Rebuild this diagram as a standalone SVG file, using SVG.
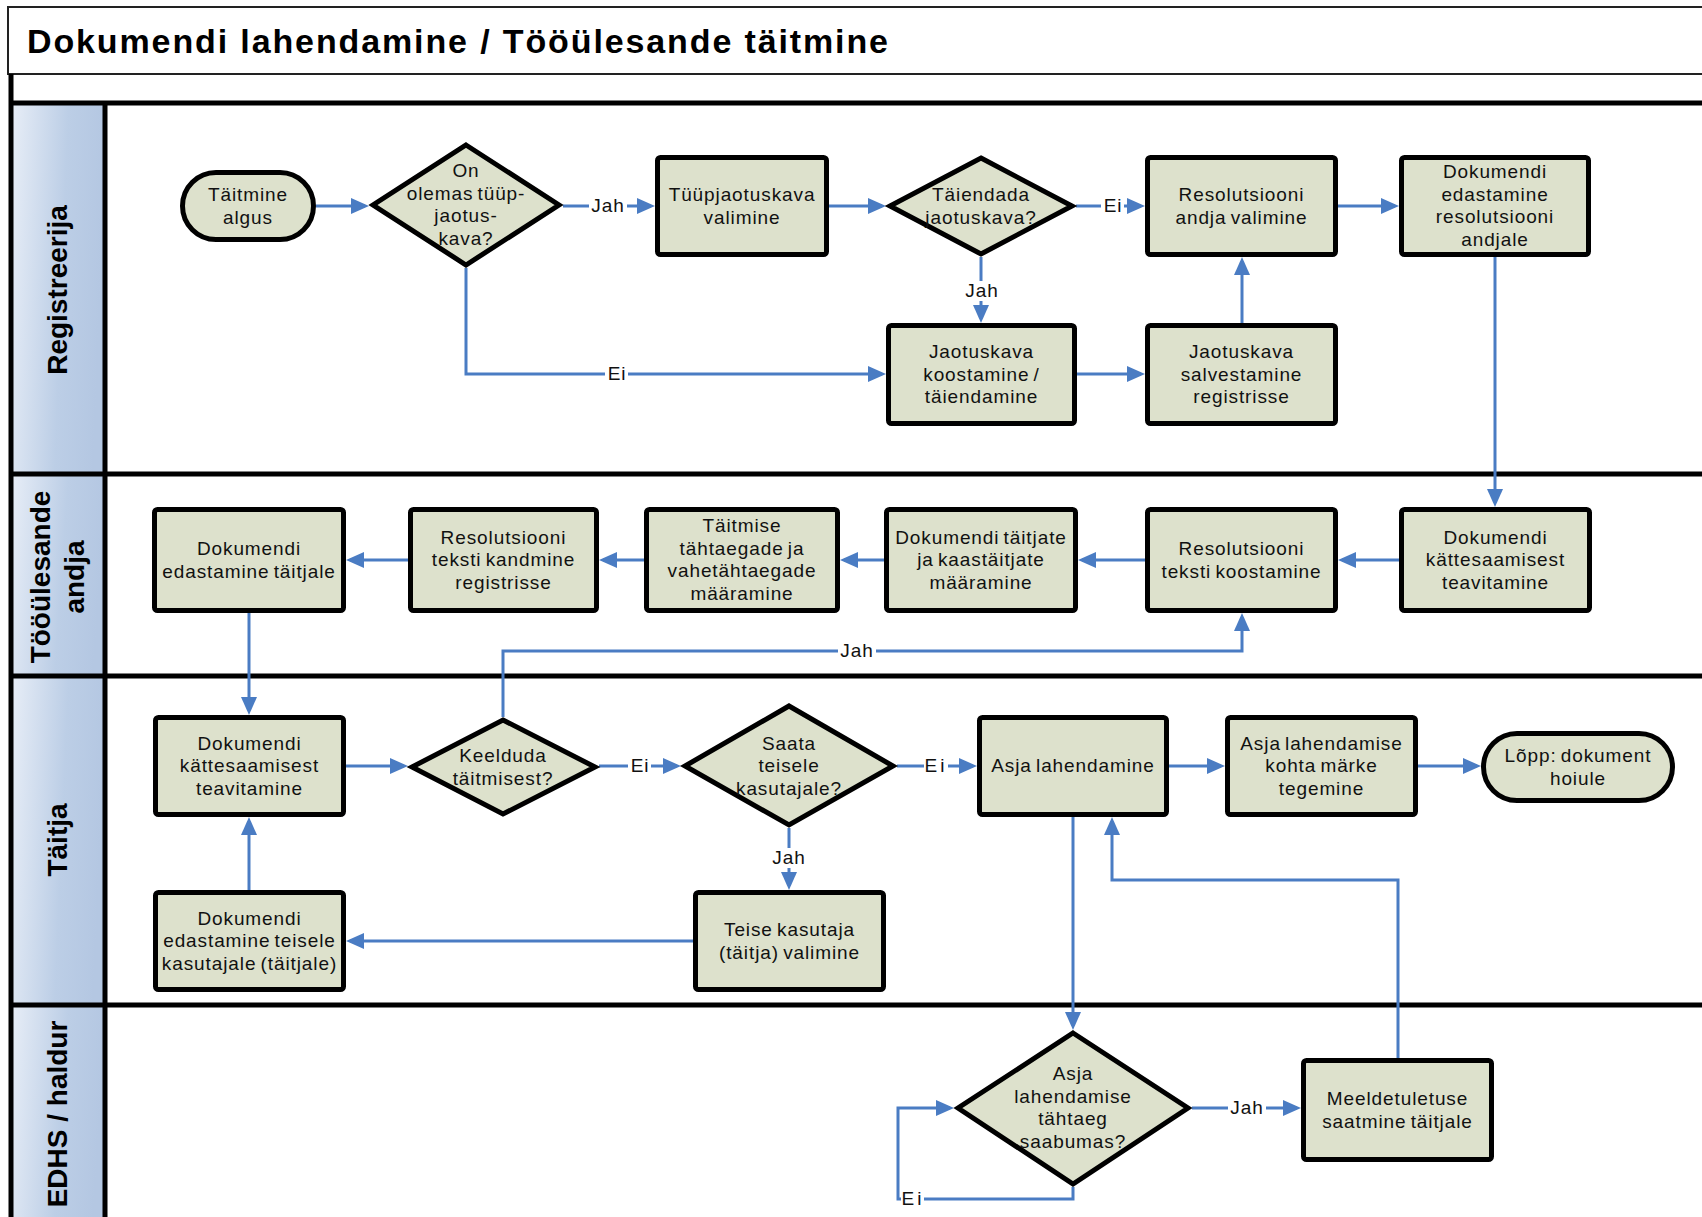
<svg xmlns="http://www.w3.org/2000/svg" width="1702" height="1217" viewBox="0 0 1702 1217">
<defs>
<linearGradient id="hdr" x1="0" y1="0" x2="1" y2="0.15">
<stop offset="0" stop-color="#e8eef7"/>
<stop offset="0.6" stop-color="#bccee6"/>
<stop offset="1" stop-color="#b4c7e2"/>
</linearGradient>
<marker id="ah" viewBox="0 0 18 16" refX="14" refY="8" markerWidth="18" markerHeight="16" markerUnits="userSpaceOnUse" orient="auto">
<path d="M0,0 L18,8 L0,16 z" fill="#4a7cc3"/>
</marker>
<style>
.node{fill:#dde1cc;stroke:#000;stroke-width:5;stroke-linejoin:miter}
.t{font-family:"Liberation Sans",Arial,sans-serif;font-size:19px;fill:#111;text-anchor:middle;letter-spacing:0.9px;word-spacing:-2px}
.conn{fill:none;stroke:#4a7cc3;stroke-width:3}
.bg{fill:#fff}
.ln{stroke:#000;stroke-width:5}
.hf{fill:url(#hdr)}
.ht{font-family:"Liberation Sans",Arial,sans-serif;font-size:28px;font-weight:bold;fill:#000;text-anchor:middle}
</style>
</defs>
<rect x="0" y="0" width="1702" height="1217" fill="#fff"/>

<g id="title">
<rect x="8" y="7" width="1710" height="67" fill="#fff" stroke="#222" stroke-width="2"/>
<text x="27" y="53" font-family="Liberation Sans,Arial,sans-serif" font-size="34" font-weight="bold" fill="#000" textLength="861" lengthAdjust="spacing">Dokumendi lahendamine / Tööülesande täitmine</text>
</g>

<g id="lanes">
<rect class="hf" x="11" y="103" width="94" height="371"/>
<rect class="hf" x="11" y="474" width="94" height="202"/>
<rect class="hf" x="11" y="676" width="94" height="329"/>
<rect class="hf" x="11" y="1005" width="94" height="212"/>
<line class="ln" x1="11" y1="74" x2="11" y2="1217"/>
<line class="ln" x1="105" y1="103" x2="105" y2="1217"/>
<line class="ln" x1="9" y1="103" x2="1702" y2="103"/>
<line class="ln" x1="9" y1="474" x2="1702" y2="474"/>
<line class="ln" x1="9" y1="676" x2="1702" y2="676"/>
<line class="ln" x1="9" y1="1005" x2="1702" y2="1005"/>
<text class="ht" transform="translate(67,290) rotate(-90)">Registreerija</text>
<text class="ht" transform="translate(50,577) rotate(-90)">Tööülesande</text>
<text class="ht" transform="translate(84,577) rotate(-90)">andja</text>
<text class="ht" transform="translate(67,840) rotate(-90)">Täitja</text>
<text class="ht" transform="translate(67,1114) rotate(-90)">EDHS / haldur</text>
</g>

<g id="connectors">
<path class="conn" marker-end="url(#ah)" d="M316,206 H365"/>
<path class="conn" marker-end="url(#ah)" d="M563,206 H651"/>
<path class="conn" marker-end="url(#ah)" d="M829,206 H882"/>
<path class="conn" marker-end="url(#ah)" d="M1076,206 H1141"/>
<path class="conn" marker-end="url(#ah)" d="M1338,206 H1395"/>
<path class="conn" marker-end="url(#ah)" d="M466,268 V374 H882"/>
<path class="conn" marker-end="url(#ah)" d="M981,257 V319"/>
<path class="conn" marker-end="url(#ah)" d="M1077,374 H1141"/>
<path class="conn" marker-end="url(#ah)" d="M1242,323 V261"/>
<path class="conn" marker-end="url(#ah)" d="M1495,257 V503"/>
<path class="conn" marker-end="url(#ah)" d="M1399,560 H1342"/>
<path class="conn" marker-end="url(#ah)" d="M1145,560 H1082"/>
<path class="conn" marker-end="url(#ah)" d="M884,560 H844"/>
<path class="conn" marker-end="url(#ah)" d="M644,560 H603"/>
<path class="conn" marker-end="url(#ah)" d="M408,560 H350"/>
<path class="conn" marker-end="url(#ah)" d="M249,613 V711"/>
<path class="conn" marker-end="url(#ah)" d="M346,766 H404"/>
<path class="conn" marker-end="url(#ah)" d="M503,717 V651 H1242 V617"/>
<path class="conn" marker-end="url(#ah)" d="M599,766 H677"/>
<path class="conn" marker-end="url(#ah)" d="M897,766 H973"/>
<path class="conn" marker-end="url(#ah)" d="M789,828 V886"/>
<path class="conn" marker-end="url(#ah)" d="M693,941 H350"/>
<path class="conn" marker-end="url(#ah)" d="M249,890 V821"/>
<path class="conn" marker-end="url(#ah)" d="M1169,766 H1221"/>
<path class="conn" marker-end="url(#ah)" d="M1418,766 H1477"/>
<path class="conn" marker-end="url(#ah)" d="M1073,817 V1026"/>
<path class="conn" marker-end="url(#ah)" d="M1398,1058 V880 H1112 V821"/>
<path class="conn" marker-end="url(#ah)" d="M1192,1108 H1297"/>
<path class="conn" marker-end="url(#ah)" d="M1073,1187 V1199 H898 V1108 H950"/>
<g id="labels">
<rect class="bg" x="589" y="197" width="38" height="18"/><text class="t" x="608" y="212">Jah</text>
<rect class="bg" x="605" y="365" width="23" height="18"/><text class="t" x="617" y="380">Ei</text>
<rect class="bg" x="963" y="281" width="38" height="20"/><text class="t" x="982" y="297">Jah</text>
<rect class="bg" x="1101" y="197" width="23" height="18"/><text class="t" x="1113" y="212">Ei</text>
<rect class="bg" x="838" y="642" width="38" height="18"/><text class="t" x="857" y="657">Jah</text>
<rect class="bg" x="628" y="757" width="23" height="18"/><text class="t" x="640" y="772">Ei</text>
<rect class="bg" x="924" y="757" width="24" height="18"/><text class="t" x="936" y="772" style="letter-spacing:3px">Ei</text>
<rect class="bg" x="770" y="848" width="38" height="20"/><text class="t" x="789" y="864">Jah</text>
<rect class="bg" x="1228" y="1099" width="38" height="18"/><text class="t" x="1247" y="1114">Jah</text>
<rect class="bg" x="901" y="1190" width="23" height="18"/><text class="t" x="913" y="1205" style="letter-spacing:3px">Ei</text>
</g>
</g>

<g id="n-start"><rect class="node" x="182.5" y="172.5" width="131" height="67" rx="33.5"/><text class="t"><tspan x="248" y="201">Täitmine</tspan><tspan x="248" y="223.5">algus</tspan></text></g>
<g id="n-d1"><polygon class="node" points="466,145 559,205 466,265 373,205"/><text class="t"><tspan x="466" y="177">On</tspan><tspan x="466" y="200">olemas tüüp-</tspan><tspan x="466" y="222">jaotus-</tspan><tspan x="466" y="245">kava?</tspan></text></g>
<g id="n-b1"><rect class="node" x="657.5" y="157.5" width="169" height="97" rx="3"/><text class="t"><tspan x="742" y="201">Tüüpjaotuskava</tspan><tspan x="742" y="223.5">valimine</tspan></text></g>
<g id="n-d2"><polygon class="node" points="981,158 1072,206 981,254 890,206"/><text class="t"><tspan x="981" y="201">Täiendada</tspan><tspan x="981" y="223.5">jaotuskava?</tspan></text></g>
<g id="n-b2"><rect class="node" x="1147.5" y="157.5" width="188" height="97" rx="3"/><text class="t"><tspan x="1241.5" y="201">Resolutsiooni</tspan><tspan x="1241.5" y="223.5">andja valimine</tspan></text></g>
<g id="n-b3"><rect class="node" x="1401.5" y="157.5" width="187" height="97" rx="3"/><text class="t"><tspan x="1495" y="178">Dokumendi</tspan><tspan x="1495" y="201">edastamine</tspan><tspan x="1495" y="223">resolutsiooni</tspan><tspan x="1495" y="246">andjale</tspan></text></g>
<g id="n-b4"><rect class="node" x="888.5" y="325.5" width="186" height="98" rx="3"/><text class="t"><tspan x="981.5" y="358">Jaotuskava</tspan><tspan x="981.5" y="380.5">koostamine /</tspan><tspan x="981.5" y="403">täiendamine</tspan></text></g>
<g id="n-b5"><rect class="node" x="1147.5" y="325.5" width="188" height="98" rx="3"/><text class="t"><tspan x="1241.5" y="358">Jaotuskava</tspan><tspan x="1241.5" y="380.5">salvestamine</tspan><tspan x="1241.5" y="403">registrisse</tspan></text></g>

<g id="n-b6"><rect class="node" x="154.5" y="509.5" width="189" height="101" rx="3"/><text class="t"><tspan x="249" y="555">Dokumendi</tspan><tspan x="249" y="577.5">edastamine täitjale</tspan></text></g>
<g id="n-b7"><rect class="node" x="410.5" y="509.5" width="186" height="101" rx="3"/><text class="t"><tspan x="503.5" y="543.5">Resolutsiooni</tspan><tspan x="503.5" y="566">teksti kandmine</tspan><tspan x="503.5" y="588.5">registrisse</tspan></text></g>
<g id="n-b8"><rect class="node" x="646.5" y="509.5" width="191" height="101" rx="3"/><text class="t"><tspan x="742" y="532">Täitmise</tspan><tspan x="742" y="555">tähtaegade ja</tspan><tspan x="742" y="577">vahetähtaegade</tspan><tspan x="742" y="600">määramine</tspan></text></g>
<g id="n-b9"><rect class="node" x="886.5" y="509.5" width="189" height="101" rx="3"/><text class="t"><tspan x="981" y="543.5">Dokumendi täitjate</tspan><tspan x="981" y="566">ja kaastäitjate</tspan><tspan x="981" y="588.5">määramine</tspan></text></g>
<g id="n-b10"><rect class="node" x="1147.5" y="509.5" width="188" height="101" rx="3"/><text class="t"><tspan x="1241.5" y="555">Resolutsiooni</tspan><tspan x="1241.5" y="577.5">teksti koostamine</tspan></text></g>
<g id="n-b11"><rect class="node" x="1401.5" y="509.5" width="188" height="101" rx="3"/><text class="t"><tspan x="1495.5" y="543.5">Dokumendi</tspan><tspan x="1495.5" y="566">kättesaamisest</tspan><tspan x="1495.5" y="588.5">teavitamine</tspan></text></g>

<g id="n-b12"><rect class="node" x="155.5" y="717.5" width="188" height="97" rx="3"/><text class="t"><tspan x="249.5" y="749.5">Dokumendi</tspan><tspan x="249.5" y="772">kättesaamisest</tspan><tspan x="249.5" y="794.5">teavitamine</tspan></text></g>
<g id="n-d3"><polygon class="node" points="503,720 595,767 503,814 412,767"/><text class="t"><tspan x="503" y="762">Keelduda</tspan><tspan x="503" y="784.5">täitmisest?</tspan></text></g>
<g id="n-d4"><polygon class="node" points="789,706 893,766 789,825 685,766"/><text class="t"><tspan x="789" y="749.5">Saata</tspan><tspan x="789" y="772">teisele</tspan><tspan x="789" y="794.5">kasutajale?</tspan></text></g>
<g id="n-b15"><rect class="node" x="979.5" y="717.5" width="187" height="97" rx="3"/><text class="t" x="1073" y="772">Asja lahendamine</text></g>
<g id="n-b16"><rect class="node" x="1227.5" y="717.5" width="188" height="97" rx="3"/><text class="t"><tspan x="1321.5" y="749.5">Asja lahendamise</tspan><tspan x="1321.5" y="772">kohta märke</tspan><tspan x="1321.5" y="794.5">tegemine</tspan></text></g>
<g id="n-end"><rect class="node" x="1483.5" y="733.5" width="189" height="67" rx="33.5"/><text class="t"><tspan x="1578" y="762">Lõpp: dokument</tspan><tspan x="1578" y="784.5">hoiule</tspan></text></g>
<g id="n-b13"><rect class="node" x="155.5" y="892.5" width="188" height="97" rx="3"/><text class="t"><tspan x="249.5" y="924.5">Dokumendi</tspan><tspan x="249.5" y="947">edastamine teisele</tspan><tspan x="249.5" y="969.5">kasutajale (täitjale)</tspan></text></g>
<g id="n-b14"><rect class="node" x="695.5" y="892.5" width="188" height="97" rx="3"/><text class="t"><tspan x="789.5" y="936">Teise kasutaja</tspan><tspan x="789.5" y="958.5">(täitja) valimine</tspan></text></g>

<g id="n-d5"><polygon class="node" points="1073,1033 1188,1108 1073,1184 958,1108"/><text class="t"><tspan x="1073" y="1080">Asja</tspan><tspan x="1073" y="1103">lahendamise</tspan><tspan x="1073" y="1125">tähtaeg</tspan><tspan x="1073" y="1148">saabumas?</tspan></text></g>
<g id="n-b17"><rect class="node" x="1303.5" y="1060.5" width="188" height="99" rx="3"/><text class="t"><tspan x="1397.5" y="1105">Meeldetuletuse</tspan><tspan x="1397.5" y="1127.5">saatmine täitjale</tspan></text></g>
</svg>
